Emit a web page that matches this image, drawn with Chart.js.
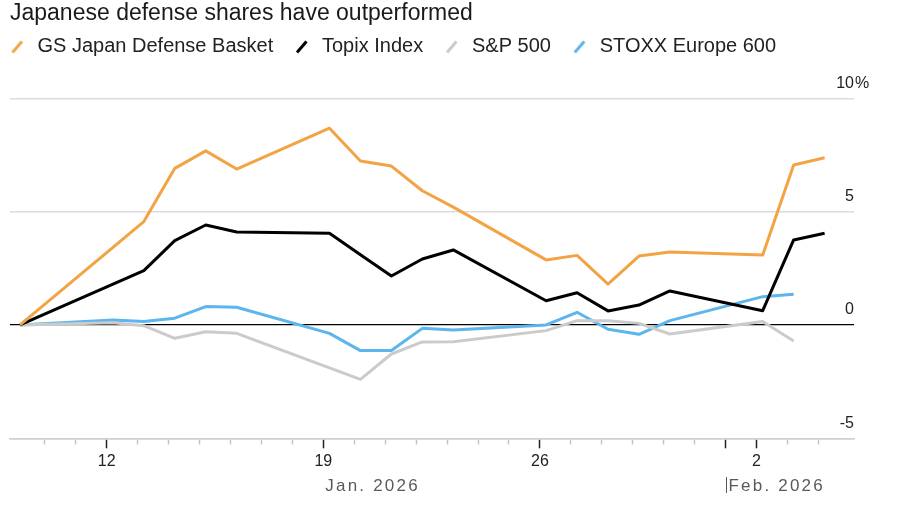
<!DOCTYPE html>
<html>
<head>
<meta charset="utf-8">
<script src="https://cdn.jsdelivr.net/npm/chart.js@4.4.1/dist/chart.umd.min.js"></script>
<style>
  html, body { margin: 0; padding: 0; background: #fff; }
  #wrap { width: 900px; height: 510px; position: relative; }
</style>
</head>
<body>
<div id="wrap"><canvas id="chart"></canvas></div>
<script>
// trading days per market
const japanDays = ['2026-01-09', '2026-01-13', '2026-01-14', '2026-01-15', '2026-01-16',
  '2026-01-19', '2026-01-20', '2026-01-21', '2026-01-22', '2026-01-23',
  '2026-01-26', '2026-01-27', '2026-01-28', '2026-01-29', '2026-01-30',
  '2026-02-02', '2026-02-03', '2026-02-04'];
const usDays = ['2026-01-09', '2026-01-12', '2026-01-13', '2026-01-14', '2026-01-15', '2026-01-16',
  '2026-01-20', '2026-01-21', '2026-01-22', '2026-01-23',
  '2026-01-26', '2026-01-27', '2026-01-28', '2026-01-29', '2026-01-30',
  '2026-02-02', '2026-02-03'];
const europeDays = ['2026-01-09', '2026-01-12', '2026-01-13', '2026-01-14', '2026-01-15', '2026-01-16',
  '2026-01-19', '2026-01-20', '2026-01-21', '2026-01-22', '2026-01-23',
  '2026-01-26', '2026-01-27', '2026-01-28', '2026-01-29', '2026-01-30',
  '2026-02-02', '2026-02-03'];

// % change since Jan. 9
const gsDefense = [0, 4.56, 6.91, 7.68, 6.88, 8.68, 7.23, 7.01, 5.92, 5.2, 2.87, 3.07, 1.80, 3.04, 3.22, 3.09, 7.06, 7.38];
const topix     = [0, 2.40, 3.72, 4.41, 4.10, 4.05, 3.1, 2.16, 2.91, 3.31, 1.07, 1.42, 0.62, 0.88, 1.50, 0.63, 3.75, 4.05];
const sp500     = [0, 0.10, -0.03, -0.59, -0.30, -0.37, -2.40, -1.28, -0.75, -0.74, -0.25, 0.19, 0.19, 0.07, -0.40, 0.15, -0.71];
const stoxx600  = [0, 0.22, 0.15, 0.30, 0.81, 0.78, -0.37, -1.13, -1.13, -0.15, -0.22, 0.0, 0.56, -0.19, -0.41, 0.19, 1.25, 1.35];

const seriesNames = ['GS Japan Defense Basket', 'Topix Index', 'S&P 500', 'STOXX Europe 600'];
const seriesColors = ['#f2a444', '#000000', '#cbcbcb', '#5cb5ec'];

const yTicks = [-5, 0, 5, 10];
const dayLabelDays = [12, 19, 26, 33];
const dayLabels = ['12', '19', '26', '2'];
const monthLabels = ['Jan. 2026', 'Feb. 2026'];
const monthLabelDays = [19, 32];

const FONT = "'Liberation Sans', Arial, Helvetica, sans-serif";

// day number counted from Dec 31 2025, shifted to market close
function dayNum(s) {
  const p = s.split('-');
  return (Date.UTC(+p[0], +p[1] - 1, +p[2]) - Date.UTC(2026, 0, 0)) / 864e5 + 0.2;
}

function slashIcon(color) {
  const c = document.createElement('canvas');
  c.width = 14; c.height = 14;
  const g = c.getContext('2d');
  g.strokeStyle = color;
  g.lineWidth = 3;
  g.beginPath();
  g.moveTo(2, 12.5);
  g.lineTo(11.5, 1.5);
  g.stroke();
  return c;
}

const tickDays = [];
for (let d = 10; d <= 35; d++) tickDays.push(d);
const majorTickDays = [12, 19, 26, 32, 33];

const days = [japanDays, japanDays, usDays, europeDays];
const values = [gsDefense, topix, sp500, stoxx600];

const datasets = values.map((vals, i) => ({
  label: seriesNames[i],
  data: vals.map((v, j) => ({ x: dayNum(days[i][j]), y: v })),
  borderColor: seriesColors[i],
  backgroundColor: seriesColors[i],
  borderWidth: 3,
  pointRadius: 0,
  pointStyle: slashIcon(seriesColors[i]),
  borderJoinStyle: 'round',
  tension: 0
}));

const TITLE_H = 18.1;
const LEGEND_PAD = 18.8;

const extras = {
  id: 'extras',
  afterInit(chart) {
    const lg = chart.legend;
    const fit = lg.fit.bind(lg);
    lg.fit = function () { fit(); this.height = 98.3 - TITLE_H; };
  },
  afterLayout(chart) {
    // first legend item sits at the left edge
    chart.legend.left = 7.5 - LEGEND_PAD;
  },
  afterDraw(chart) {
    const ctx = chart.ctx;
    const xs = chart.scales.x;
    const ys = chart.scales.y;
    ctx.save();
    // percent sign after top label
    ctx.font = '16px ' + FONT;
    ctx.fillStyle = '#222';
    ctx.textAlign = 'left';
    ctx.textBaseline = 'middle';
    ctx.fillText('%', chart.chartArea.right + 1, ys.getPixelForValue(10) - 15);
    // month labels
    ctx.font = '17px ' + FONT;
    ctx.fillStyle = '#5a5a5a';
    ctx.textBaseline = 'alphabetic';
    ctx.letterSpacing = '2.2px';
    ctx.fillText(monthLabels[0], xs.getPixelForValue(monthLabelDays[0]) + 2, 491);
    const fx = Math.round(xs.getPixelForValue(monthLabelDays[1])) + 0.5;
    ctx.strokeStyle = '#5a5a5a';
    ctx.lineWidth = 1;
    ctx.beginPath();
    ctx.moveTo(fx, 477);
    ctx.lineTo(fx, 493);
    ctx.stroke();
    ctx.fillText(monthLabels[1], fx + 2, 491);
    ctx.restore();
  }
};

new Chart(document.getElementById('chart'), {
  type: 'line',
  data: { datasets: datasets },
  plugins: [extras],
  options: {
    responsive: true,
    maintainAspectRatio: false,
    animation: false,
    layout: { padding: { left: 10, right: 46, top: 0, bottom: 0 } },
    plugins: {
      tooltip: { enabled: false },
      title: {
        display: true,
        text: 'Japanese defense shares have outperformed',
        align: 'start',
        color: '#1a1a1a',
        font: { family: FONT, size: 23, weight: 'normal', lineHeight: 0.4 },
        padding: { top: 8.9, bottom: 0 }
      },
      legend: {
        display: true,
        align: 'start',
        labels: {
          usePointStyle: true,
          color: '#222',
          padding: LEGEND_PAD,
          font: { family: FONT, size: 20 }
        }
      }
    },
    scales: {
      x: {
        type: 'linear',
        min: 8.875,
        max: 36.15,
        afterBuildTicks: s => { s.ticks = tickDays.map(v => ({ value: v })); },
        afterFit: s => { s.height = 510 - 438.3; },
        grid: {
          drawOnChartArea: false,
          drawTicks: true,
          tickLength: 10,
          tickWidth: 1.5,
          tickColor: c => majorTickDays.includes(c.tick.value) ? '#222' : '#c4c4c4',
          tickBorderDash: c => majorTickDays.includes(c.tick.value) ? [] : [5, 20]
        },
        border: { display: true, color: '#d0d0d0', width: 1.5 },
        ticks: {
          autoSkip: false,
          maxRotation: 0,
          padding: 4,
          color: '#222',
          font: { family: FONT, size: 16 },
          callback: v => {
            const i = dayLabelDays.indexOf(v);
            return i >= 0 ? dayLabels[i] : '';
          }
        }
      },
      y: {
        position: 'right',
        min: -5,
        max: 10,
        afterBuildTicks: s => { s.ticks = yTicks.map(v => ({ value: v })); },
        afterFit: s => { s.width = 0; },
        grid: {
          drawTicks: false,
          color: c => c.tick.value === 0 ? '#000' : (c.tick.value === -5 ? '#d0d0d0' : '#dcdcdc'),
          lineWidth: c => c.tick.value === 0 ? 1.2 : 1.5
        },
        border: { display: false },
        ticks: {
          mirror: true,
          padding: 0,
          labelOffset: -15,
          color: '#222',
          font: { family: FONT, size: 16 },
          callback: v => String(v)
        }
      }
    }
  }
});
</script>
</body>
</html>
